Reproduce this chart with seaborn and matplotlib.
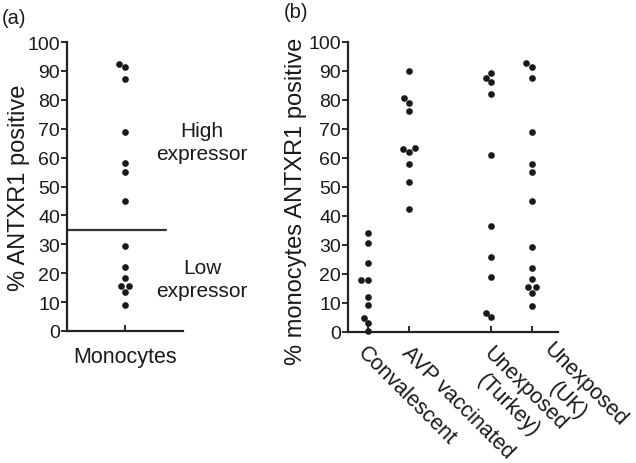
import matplotlib
matplotlib.use("Agg")
import matplotlib.pyplot as plt
import matplotlib.transforms as mtransforms
import pandas as pd
import seaborn as sns

# ---------------- data ----------------
monocytes_uk = [92.5, 91.3, 87.3, 68.9, 58.0, 55.0, 45.1, 29.4, 22.0, 18.3, 15.4, 15.4, 13.5, 8.9]
convalescent = [34.2, 30.6, 23.7, 17.9, 17.9, 12.0, 9.3, 4.9, 3.1, 0.2]
avp_vaccinated = [90.0, 80.5, 78.9, 76.0, 63.5, 63.0, 62.1, 57.7, 51.6, 42.4]
unexposed_turkey = [89.0, 87.5, 86.1, 82.0, 61.0, 36.6, 25.7, 18.8, 6.4, 5.0]
threshold = 35
panel_a_category = "Monocytes"
groups = ["Convalescent", "AVP vaccinated", "Unexposed\n(Turkey)", "Unexposed\n(UK)"]
yticks = list(range(0, 101, 10))

# ---------------- style ----------------
sns.set_theme(style="ticks")
plt.rcParams["font.family"] = ["Liberation Sans", "DejaVu Sans"]
ink = "#1a1a1a"

fig = plt.figure(figsize=(6.36, 4.64), dpi=100)
W, H = 636, 464
axA = fig.add_axes([67 / W, 1 - 332 / H, 116 / W, 289 / H])
axB = fig.add_axes([348 / W, 1 - 333 / H, 210 / W, 290.5 / H])

# ---------------- panel (a) ----------------
dfA = pd.DataFrame({"cell": panel_a_category, "pct": monocytes_uk})
sns.swarmplot(data=dfA, x="cell", y="pct", color=ink, size=4.8, ax=axA)
axA.set_xlim(-0.5, 0.5)
axA.axhline(threshold, xmin=0, xmax=0.853, color="#333333", lw=1.6)
axA.text(0.664, 65.4, "High\nexpressor", ha="center", va="center",
         fontsize=15, linespacing=1.25, color=ink, clip_on=False)
axA.text(0.664, 18.0, "Low\nexpressor", ha="center", va="center",
         fontsize=15, linespacing=1.25, color=ink, clip_on=False)
axA.set_ylabel("% ANTXR1 positive", fontsize=17, color=ink)
axA.yaxis.set_label_coords(-0.32, 0.5)
axA.set_xlabel("")

# ---------------- panel (b) ----------------
dfB = pd.DataFrame({
    "group": [groups[0]] * len(convalescent) + [groups[1]] * len(avp_vaccinated)
             + [groups[2]] * len(unexposed_turkey) + [groups[3]] * len(monocytes_uk),
    "pct": convalescent + avp_vaccinated + unexposed_turkey + monocytes_uk,
})
order = [groups[0], groups[1], " ", groups[2], groups[3]]
sns.swarmplot(data=dfB, x="group", y="pct", order=order, color=ink, size=4.8, ax=axB)
axB.set_xlim(-0.49, 4.63)
axB.set_xticks([0, 1, 3, 4])
axB.set_xticklabels(groups, rotation=-45, rotation_mode="anchor", ha="left",
                    va="top", multialignment="center", linespacing=1.2)
axB.set_ylabel("% monocytes ANTXR1 positive", fontsize=17, color=ink)
axB.yaxis.set_label_coords(-0.195, 0.452)
axB.set_xlabel("")

for ax in (axA, axB):
    ax.set_ylim(0, 100)
    ax.set_yticks(yticks)
    sns.despine(ax=ax)
    for s in ("left", "bottom"):
        ax.spines[s].set_linewidth(1.6)
        ax.spines[s].set_color("#222222")
    ax.tick_params(axis="y", direction="out", length=4, width=1.3, pad=1,
                   labelsize=14, colors=ink)
    ax.tick_params(axis="x", direction="in", length=4, width=1.3,
                   labelsize=15.5, colors=ink)
    for coll in ax.collections:
        coll.set_clip_on(False)
        coll.set_zorder(3)

axA.tick_params(axis="x", pad=11)
axB.tick_params(axis="x", pad=7)

# small label nudges (pixels) to match the original label placement
nudges = [(0, 0), (3, 0), (3, 0), (22, 4)]
for lab, (dx, dy) in zip(axB.get_xticklabels(), nudges):
    off = mtransforms.ScaledTranslation(dx / 100, dy / 100, fig.dpi_scale_trans)
    lab.set_transform(lab.get_transform() + off)

fig.text(2 / W, 1 - 19 / H, "(a)", ha="left", va="center", fontsize=14.5, color=ink)
fig.text(284 / W, 1 - 13 / H, "(b)", ha="left", va="center", fontsize=14.5, color=ink)

fig.savefig("out.png", dpi=100)
